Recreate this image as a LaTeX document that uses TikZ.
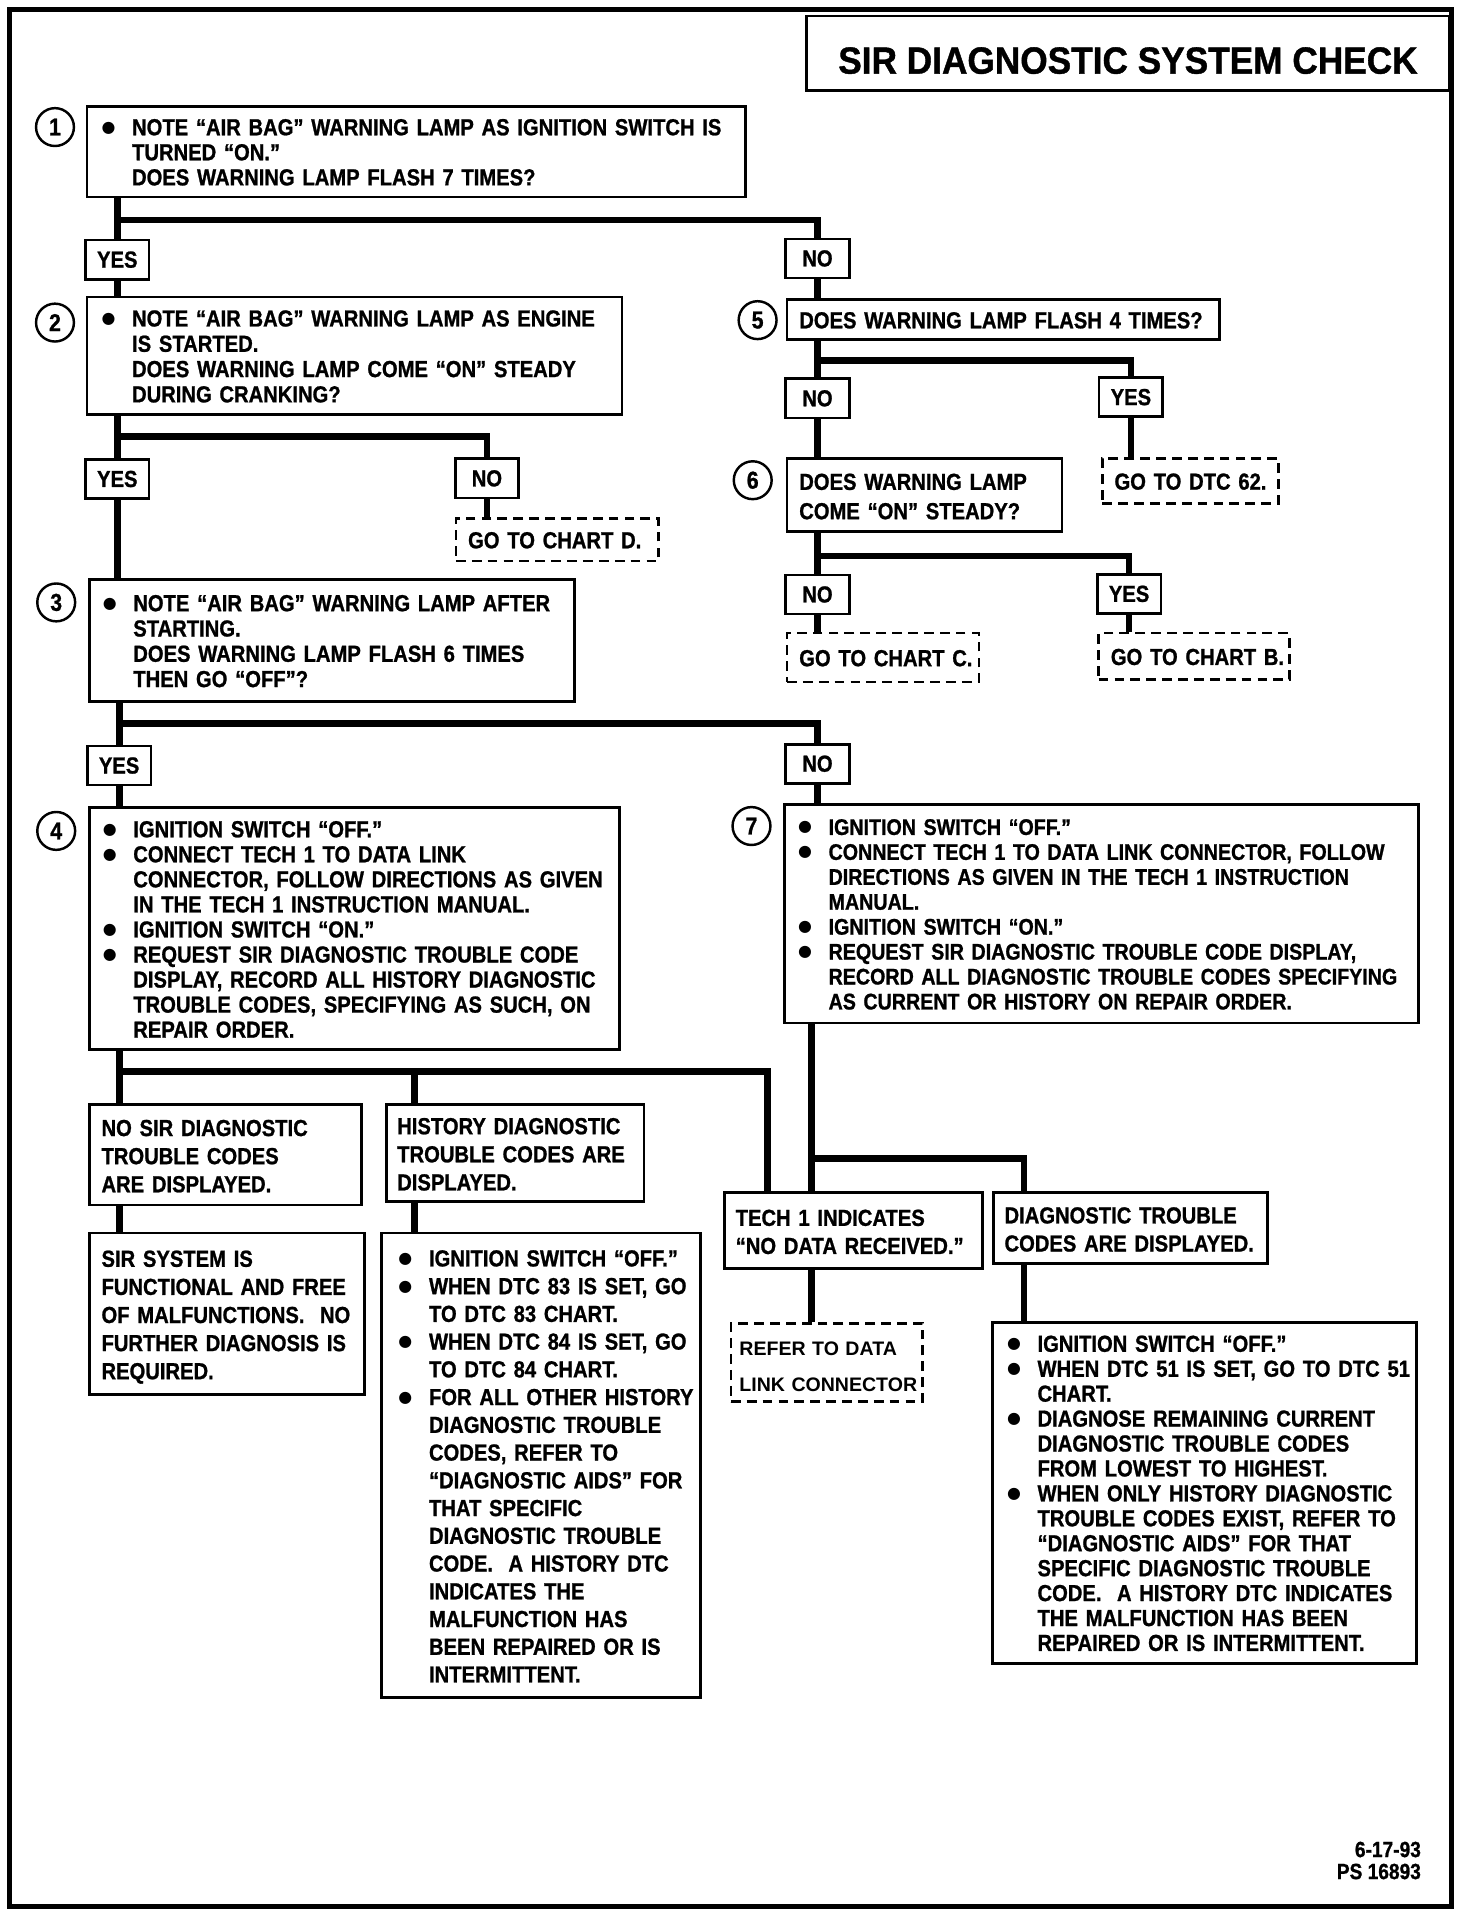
\documentclass[tikz,border=0pt]{standalone}
\usepackage{fontspec}
\setmainfont{Liberation Sans}[FakeStretch=0.87, FakeBold=1.0]
\newfontfamily\titlefont{Liberation Sans}[FakeStretch=0.93, FakeBold=1.0]
\newfontfamily\plainsans{Liberation Sans}
\newfontfamily\symfont{DejaVu Sans}
\usetikzlibrary{calc}
\newcommand\myb{\makebox[25pt][l]{\raisebox{2.5pt}{\symfont\fontsize{13}{13}\selectfont ●}}}
\newcommand\myi{\hspace*{25pt}}
\newcommand\mytab[1]{\raisebox{-3pt}[\height][\depth]{\begin{tabular}{@{}l@{}}#1\end{tabular}}}
\newcommand\lh[1]{\fontsize{19}{#1}\selectfont}
\tikzset{
  every node/.style={font=\bfseries\lh{20.5}},
  box/.style={draw, line width=2.2pt, anchor=north west, inner ysep=0pt, align=left},
  dbox/.style={box, dash pattern=on 8pt off 5pt},
  yn/.style={draw, line width=2.2pt, minimum width=52pt, minimum height=32pt, inner sep=0pt},
  conn/.style={line width=5.5pt},
  num/.style={draw, circle, line width=2pt, minimum size=31pt, inner sep=0pt, font=\bfseries\fontsize{20}{20}\selectfont}
}
\begin{document}
\begin{tikzpicture}[x=1pt,y=-1pt]
\useasboundingbox (0,0) rectangle (1205,1568);
\draw[line width=4pt] (8,8) rectangle (1188,1560);

% title
\node[box, minimum width=526pt, minimum height=61pt, align=center, font=\titlefont\bfseries\fontsize{31}{31}\selectfont] (title) at (659,12) {\raisebox{-6pt}[\height][\depth]{SIR DIAGNOSTIC SYSTEM CHECK}};

% step boxes
\node[box, inner xsep=12pt, text width=515pt, minimum height=74pt] (b1) at (70,86)
 {\mytab{\myb NOTE “AIR BAG” WARNING LAMP AS IGNITION SWITCH IS\\ \myi TURNED “ON.”\\ \myi DOES WARNING LAMP FLASH 7 TIMES?}};
\node[num] (c1) at (45,104) {1};

\node[box, inner xsep=12pt, text width=414pt, minimum height=96pt, font=\bfseries\lh{20.7}] (b2) at (70,242)
 {\mytab{\myb NOTE “AIR BAG” WARNING LAMP AS ENGINE\\ \myi IS STARTED.\\ \myi DOES WARNING LAMP COME “ON” STEADY\\ \myi DURING CRANKING?}};
\node[num] (c2) at (45,264) {2};

\node[box, inner xsep=11pt, text width=375pt, minimum height=100pt, font=\bfseries\lh{20.7}] (b3) at (72,473)
 {\mytab{\myb NOTE “AIR BAG” WARNING LAMP AFTER\\ \myi STARTING.\\ \myi DOES WARNING LAMP FLASH 6 TIMES\\ \myi THEN GO “OFF”?}};
\node[num] (c3) at (46,493) {3};

\node[box, inner xsep=11pt, text width=412pt, minimum height=198pt] (b4) at (72,660)
 {\mytab{\myb IGNITION SWITCH “OFF.”\\ \myb CONNECT TECH 1 TO DATA LINK\\ \myi CONNECTOR, FOLLOW DIRECTIONS AS GIVEN\\ \myi IN THE TECH 1 INSTRUCTION MANUAL.\\ \myb IGNITION SWITCH “ON.”\\ \myb REQUEST SIR DIAGNOSTIC TROUBLE CODE\\ \myi DISPLAY, RECORD ALL HISTORY DIAGNOSTIC\\ \myi TROUBLE CODES, SPECIFYING AS SUCH, ON\\ \myi REPAIR ORDER.}};
\node[num] (c4) at (46,680) {4};

\node[box, inner xsep=10pt, text width=334pt, minimum height=33pt] (b5) at (643,244)
 {\mytab{DOES WARNING LAMP FLASH 4 TIMES?}};
\node[num] (c5) at (620,262) {5};

\node[box, inner xsep=10pt, text width=205pt, minimum height=60pt, font=\bfseries\lh{24}] (b6) at (643,374)
 {\mytab{DOES WARNING LAMP\\ COME “ON” STEADY?}};
\node[num] (c6) at (616,393) {6};

\node[box, inner xsep=11pt, text width=497pt, minimum height=179pt, font=\bfseries\fontsize{18.5}{20.4}\selectfont] (b7) at (641,657)
 {\mytab{\myb IGNITION SWITCH “OFF.”\\ \myb CONNECT TECH 1 TO DATA LINK CONNECTOR, FOLLOW\\ \myi DIRECTIONS AS GIVEN IN THE TECH 1 INSTRUCTION\\ \myi MANUAL.\\ \myb IGNITION SWITCH “ON.”\\ \myb REQUEST SIR DIAGNOSTIC TROUBLE CODE DISPLAY,\\ \myi RECORD ALL DIAGNOSTIC TROUBLE CODES SPECIFYING\\ \myi AS CURRENT OR HISTORY ON REPAIR ORDER.}};
\node[num] (c7) at (615,676) {7};

% go-to boxes
\node[dbox, inner xsep=10pt, text width=146pt, minimum height=35pt] (gD) at (372,423) {\mytab{GO TO CHART D.}};
\node[dbox, inner xsep=10pt, text width=124pt, minimum height=37pt] (g62) at (901,374) {\mytab{GO TO DTC 62.}};
\node[dbox, inner xsep=10pt, text width=137pt, minimum height=40pt] (gC) at (643,517) {\mytab{GO TO CHART C.}};
\node[dbox, inner xsep=10pt, text width=136pt, minimum height=38pt] (gB) at (898,517) {\mytab{GO TO CHART B.}};

% result boxes
\node[box, inner xsep=10pt, text width=203pt, minimum height=82pt, font=\bfseries\lh{23}] (nosir) at (72,903)
 {\mytab{NO SIR DIAGNOSTIC\\ TROUBLE CODES\\ ARE DISPLAYED.}};
\node[box, inner xsep=9pt, text width=193pt, minimum height=79pt, font=\bfseries\lh{23}] (hist) at (315,903)
 {\mytab{HISTORY DIAGNOSTIC\\ TROUBLE CODES ARE\\ DISPLAYED.}};
\node[box, inner xsep=10pt, text width=205pt, minimum height=132pt, font=\bfseries\lh{23}] (sirsys) at (72,1008)
 {\mytab{SIR SYSTEM IS\\ FUNCTIONAL AND FREE\\ OF MALFUNCTIONS.\ \ NO\\ FURTHER DIAGNOSIS IS\\ REQUIRED.}};
\node[box, inner xsep=14pt, text width=233pt, minimum height=380pt, font=\bfseries\lh{22.7}] (histb) at (311,1008)
 {\mytab{\myb IGNITION SWITCH “OFF.”\\ \myb WHEN DTC 83 IS SET, GO\\ \myi TO DTC 83 CHART.\\ \myb WHEN DTC 84 IS SET, GO\\ \myi TO DTC 84 CHART.\\ \myb FOR ALL OTHER HISTORY\\ \myi DIAGNOSTIC TROUBLE\\ \myi CODES, REFER TO\\ \myi “DIAGNOSTIC AIDS” FOR\\ \myi THAT SPECIFIC\\ \myi DIAGNOSTIC TROUBLE\\ \myi CODE.\ \ A HISTORY DTC\\ \myi INDICATES THE\\ \myi MALFUNCTION HAS\\ \myi BEEN REPAIRED OR IS\\ \myi INTERMITTENT.}};
\node[box, inner xsep=9pt, text width=193pt, minimum height=62pt, font=\bfseries\lh{23}] (tech1) at (592,975)
 {\mytab{TECH 1 INDICATES\\ “NO DATA RECEIVED.”}};
\node[box, inner xsep=9pt, text width=206pt, minimum height=58pt, font=\bfseries\lh{23}] (dtc) at (812,975)
 {\mytab{DIAGNOSTIC TROUBLE\\ CODES ARE DISPLAYED.}};
\node[dbox, inner xsep=7pt, text width=143pt, minimum height=64pt, font=\plainsans\bfseries\fontsize{16}{29}\selectfont] (refer) at (597,1082)
 {\mytab{REFER TO DATA\\ LINK CONNECTOR}};
\node[box, inner xsep=12pt, text width=323pt, minimum height=279pt, font=\bfseries\lh{20.4}] (dtcb) at (811,1081)
 {\mytab{\myb IGNITION SWITCH “OFF.”\\ \myb WHEN DTC 51 IS SET, GO TO DTC 51\\ \myi CHART.\\ \myb DIAGNOSE REMAINING CURRENT\\ \myi DIAGNOSTIC TROUBLE CODES\\ \myi FROM LOWEST TO HIGHEST.\\ \myb WHEN ONLY HISTORY DIAGNOSTIC\\ \myi TROUBLE CODES EXIST, REFER TO\\ \myi “DIAGNOSTIC AIDS” FOR THAT\\ \myi SPECIFIC DIAGNOSTIC TROUBLE\\ \myi CODE.\ \ A HISTORY DTC INDICATES\\ \myi THE MALFUNCTION HAS BEEN\\ \myi REPAIRED OR IS INTERMITTENT.}};

% yes / no labels
\node[yn] (y1) at (96,212.5) {YES};
\node[yn] (n1) at (669,211.5) {NO};
\node[yn] (y2) at (96,392) {YES};
\node[yn] (n2) at (398.5,391.5) {NO};
\node[yn] (n5) at (669,326) {NO};
\node[yn] (y5) at (925.5,325) {YES};
\node[yn] (n6) at (669,486.5) {NO};
\node[yn] (y6) at (924,486) {YES};
\node[yn] (y3) at (97.5,626.5) {YES};
\node[yn] (n3) at (669,625) {NO};

% footer
\node[anchor=north east, align=right, inner sep=0pt, font=\bfseries\fontsize{18}{18}\selectfont] (foot) at (1163,1507) {6-17-93\\PS 16893};

% lanes and junctions
\coordinate (L98) at (98,0);
\coordinate (L339) at (339,0);
\coordinate (L628) at (628,0);
\coordinate (L664) at (664,0);
\coordinate (L838) at (838,0);
\coordinate (j1) at (96,180);
\coordinate (j2) at (96,357);
\coordinate (j5) at (669,295);
\coordinate (j6) at (669,455);
\coordinate (j3) at (97.5,592);
\coordinate (j4) at (98,877);
\coordinate (j7) at (664,948);

% connectors
\draw[conn] (y1.north |- b1.south) -- (y1.north);
\draw[conn] (j1) -| (n1.north);
\draw[conn] (y1.south) -- (y1.south |- b2.north);
\draw[conn] (n1.south) -- (n1.south |- b5.north);

\draw[conn] (y2.north |- b2.south) -- (y2.north);
\draw[conn] (j2) -| (n2.north);
\draw[conn] (n2.south) -- (n2.south |- gD.north);
\draw[conn] (y2.south) -- (y2.south |- b3.north);

\draw[conn] (n5.north |- b5.south) -- (n5.north);
\draw[conn] (j5) -| (y5.north);
\draw[conn] (y5.south) -- (y5.south |- g62.north);
\draw[conn] (n5.south) -- (n5.south |- b6.north);

\draw[conn] (n6.north |- b6.south) -- (n6.north);
\draw[conn] (j6) -| (y6.north);
\draw[conn] (n6.south) -- (n6.south |- gC.north);
\draw[conn] (y6.south) -- (y6.south |- gB.north);

\draw[conn] (y3.north |- b3.south) -- (y3.north);
\draw[conn] (j3) -| (n3.north);
\draw[conn] (y3.south) -- (y3.south |- b4.north);
\draw[conn] (n3.south) -- (n3.south |- b7.north);

\draw[conn] (b4.south -| L98) -- (nosir.north -| L98);
\draw[conn] (j4) -| (tech1.north -| L628);
\draw[conn] (j4 -| L339) -- (hist.north -| L339);
\draw[conn] (nosir.south -| L98) -- (sirsys.north -| L98);
\draw[conn] (hist.south -| L339) -- (histb.north -| L339);

\draw[conn] (b7.south -| L664) -- (tech1.north -| L664);
\draw[conn] (j7) -| (dtc.north -| L838);
\draw[conn] (tech1.south -| L664) -- (refer.north -| L664);
\draw[conn] (dtc.south -| L838) -- (dtcb.north -| L838);
\end{tikzpicture}
\end{document}
